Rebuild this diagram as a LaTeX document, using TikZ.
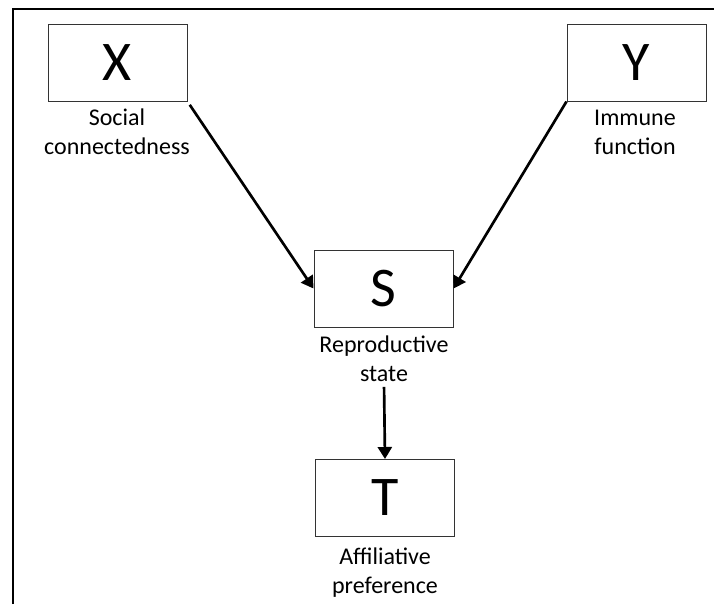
\documentclass[tikz,border=0pt]{standalone}
\usepackage{fontspec}
\setmainfont{Carlito}
\usetikzlibrary{arrows.meta}

\begin{document}
\begin{tikzpicture}[x=0.75pt, y=-0.75pt,
    var/.style={draw=black!80, line width=0.75pt, minimum width=104.25pt,
      minimum height=57.75pt, inner sep=0pt, font=\fontsize{42}{50}\selectfont},
    lbl/.style={align=center, anchor=base, inner sep=1pt,
      font=\fontsize{18}{21.75}\selectfont},
    link/.style={line width=2pt, -{Triangle[length=9pt, width=10.5pt]}}]
  \useasboundingbox (0,0) rectangle (714,604);
  % frame
  \draw[line width=1.5pt] (13,604) -- (13,9) -- (714,9);
  % variables
  \node[var] (x) at (117.5,62.5) {X};
  \node[var] (y) at (636.5,62.5) {Y};
  \node[var] (s) at (383.5,288.5) {S};
  \node[var] (t) at (385,498) {T};
  % descriptions
  \node[lbl] (xl) at (117,154) {Social\\connectedness};
  \node[lbl] (yl) at (635,154) {Immune\\function};
  \node[lbl] (sl) at (384,381) {Reproductive\\state};
  \node[lbl] (tl) at (385,593) {Affiliative\\preference};
  % links
  \draw[link, shorten <=3pt] (x.south east) -- (s.west);
  \draw[link] (y.south west) -- (s.east);
  \draw[link, shorten <=3pt] (sl.south) -- (t.north);
\end{tikzpicture}
\end{document}
